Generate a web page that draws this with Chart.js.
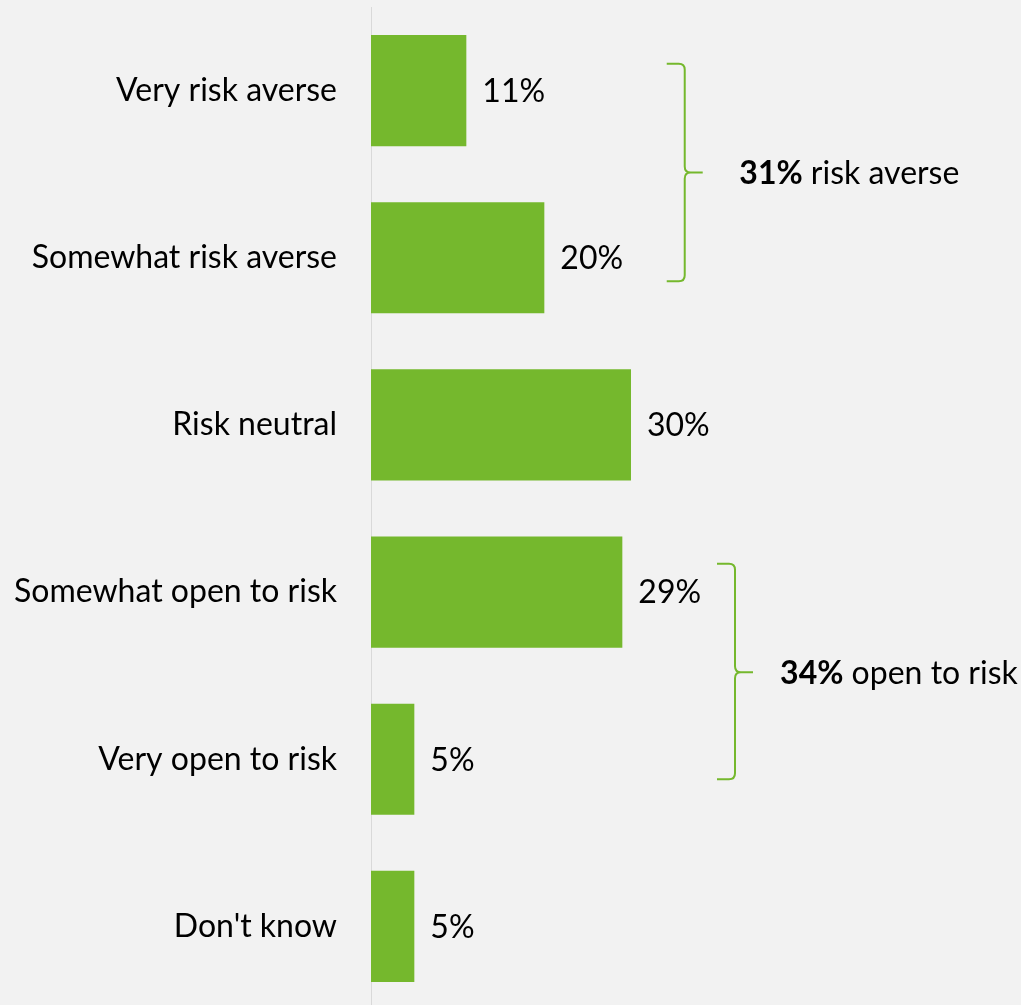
<!DOCTYPE html>
<html>
<head>
<meta charset="utf-8">
<script src="https://cdn.jsdelivr.net/npm/chart.js@4/dist/chart.umd.min.js"></script>
<style>
  html, body { margin: 0; padding: 0; background: #f2f2f2; overflow: hidden; }
  #wrap { width: 1021px; height: 1010px; }
</style>
</head>
<body>
<div id="wrap"><canvas id="riskChart" width="1021" height="1010"></canvas></div>
<script>
const categories = ['Very risk averse', 'Somewhat risk averse', 'Risk neutral', 'Somewhat open to risk', 'Very open to risk', "Don't know"];
const shares = [11, 20, 30, 29, 5, 5];

// grouped totals shown next to the curly brackets
const groupFrom = [0, 3];
const groupTo = [1, 4];
const groupTotals = [31, 34];
const groupNames = ['risk averse', 'open to risk'];

const GREEN = '#75b82d';
const FONT = 'Lato, "Open Sans", sans-serif';
const FONT_SIZE = 32;

// value labels at the end of each bar
const valueLabels = {
    id: 'valueLabels',
    afterDatasetsDraw(chart) {
        const ctx = chart.ctx;
        const meta = chart.getDatasetMeta(0);
        ctx.save();
        ctx.font = FONT_SIZE + 'px ' + FONT;
        ctx.fillStyle = '#000';
        ctx.textAlign = 'left';
        ctx.textBaseline = 'middle';
        meta.data.forEach((bar, i) => {
            ctx.fillText(shares[i] + '%', bar.x + 16, bar.y + 1);
        });
        ctx.restore();
    }
};

// curly brackets with group totals
const brackets = {
    id: 'brackets',
    afterDraw(chart, args, opts) {
        const ctx = chart.ctx;
        const xs = chart.scales.x, ys = chart.scales.y;
        ctx.save();
        groupFrom.forEach((from, g) => {
            const pos = opts.places[g];
            const xV = xs.getPixelForValue(pos.x);
            const top = ys.getPixelForValue(from + pos.top);
            const bottom = ys.getPixelForValue(groupTo[g] + pos.bottom);
            const mid = ys.getPixelForValue(from + pos.mid);
            const r = 6, arm = 18;

            ctx.strokeStyle = GREEN;
            ctx.lineWidth = 2;
            ctx.beginPath();
            ctx.moveTo(xV - arm, top);
            ctx.lineTo(xV - r, top);
            ctx.quadraticCurveTo(xV, top, xV, top + r);
            ctx.lineTo(xV, mid - r);
            ctx.quadraticCurveTo(xV, mid, xV + r, mid);
            ctx.lineTo(xV + arm, mid);
            ctx.moveTo(xV + r, mid);
            ctx.quadraticCurveTo(xV, mid, xV, mid + r);
            ctx.lineTo(xV, bottom - r);
            ctx.quadraticCurveTo(xV, bottom, xV - r, bottom);
            ctx.lineTo(xV - arm, bottom);
            ctx.stroke();

            const tx = xs.getPixelForValue(pos.text);
            const bold = groupTotals[g] + '%';
            ctx.fillStyle = '#000';
            ctx.textAlign = 'left';
            ctx.textBaseline = 'middle';
            ctx.font = 'bold ' + FONT_SIZE + 'px ' + FONT;
            ctx.fillText(bold, tx, mid + 1);
            const w = ctx.measureText(bold).width;
            ctx.font = FONT_SIZE + 'px ' + FONT;
            ctx.fillText(' ' + groupNames[g], tx + w, mid + 1);
        });
        ctx.restore();
    }
};

const config = {
    type: 'bar',
    data: {
        labels: categories,
        datasets: [{
            data: shares,
            backgroundColor: GREEN,
            borderWidth: 0,
            categoryPercentage: 1,
            barPercentage: 0.665
        }]
    },
    options: {
        indexAxis: 'y',
        responsive: false,
        animation: false,
        layout: { padding: { top: 7, right: 0, bottom: 0, left: 0 } },
        scales: {
            x: { display: false, min: 0, max: 75 },
            y: {
                afterFit(scale) {
                    scale.width = 371;
                    scale.paddingTop = 0;
                    scale.paddingBottom = 0;
                },
                grid: { display: false, drawTicks: false },
                border: { display: true, color: '#d9d9d9', width: 1 },
                ticks: {
                    padding: 34,
                    color: '#000',
                    font: { family: FONT, size: FONT_SIZE }
                }
            }
        },
        plugins: {
            legend: { display: false },
            tooltip: { enabled: false },
            brackets: {
                places: [
                    { x: 36.2, top: -0.16, bottom: 0.14, mid: 0.49, text: 42.5 },
                    { x: 42.0, top: -0.17, bottom: 0.12, mid: 0.48, text: 47.2 }
                ]
            }
        }
    },
    plugins: [valueLabels, brackets]
};

const riskChart = new Chart(document.getElementById('riskChart').getContext('2d'), config);
</script>
</body>
</html>
